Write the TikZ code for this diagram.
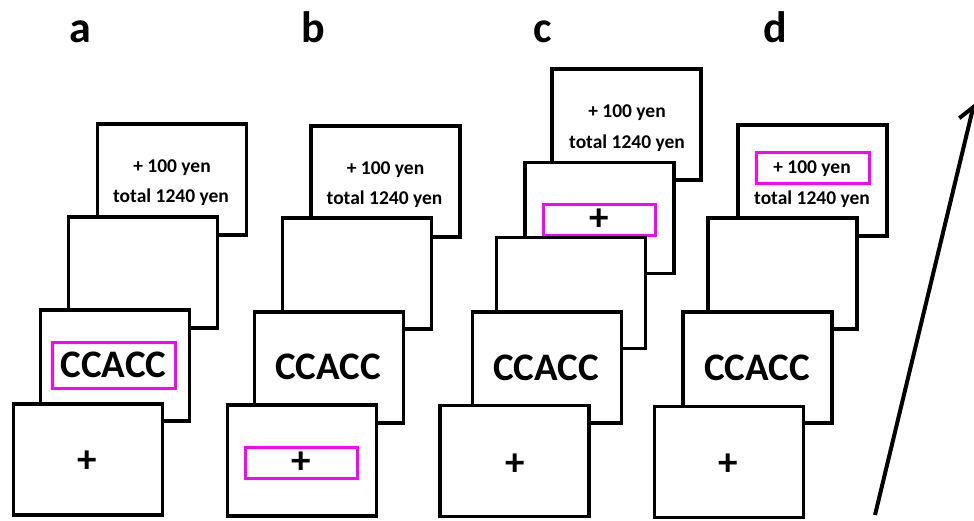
\documentclass[tikz,border=0pt]{standalone}
\usepackage{fontspec}
\setmainfont{Carlito}
\usetikzlibrary{arrows.meta}
\definecolor{hlmag}{RGB}{255,0,255}
\tikzset{
  scr/.style={draw=black, fill=white, line width=3.2pt, minimum width=149pt, minimum height=111pt, inner sep=0pt},
  hl/.style={draw=hlmag, line width=3pt, inner sep=0pt},
  small/.style={font=\fontsize{19.5}{20}\selectfont\bfseries, inner sep=0pt},
  big/.style={font=\fontsize{39}{40}\selectfont\bfseries, inner sep=0pt},
  lbl/.style={font=\fontsize{44}{44}\selectfont\bfseries, anchor=base, inner sep=0pt},
  arr/.style={line width=4pt, -{Straight Barb[length=14pt,width=22pt,line width=4pt]}}
}
\begin{document}
\begin{tikzpicture}[x=1pt,y=-1pt]
\useasboundingbox (0,0) rectangle (974,520);
% labels
\node[lbl] (la) at (80,42) {a};
\node[lbl] (lb) at (313,42) {b};
\node[lbl] (lc) at (543,42) {c};
\node[lbl] (ld) at (775,42) {d};
% panel a
\node[scr] (a1) at (172,179.5) {};
\node[small] (a1t) at (172,168) {+ 100 yen};
\node[small] (a1u) at (171,197) {total 1240 yen};
\node[scr] (a2) at (143,272.5) {};
\node[scr] (a3) at (115,365.5) {};
\node[hl, big, minimum width=123pt, minimum height=46pt] (a3h) at (113.5,365) {CCACC};
\node[scr] (a4) at (88,459.5) {};
\node[big] (a4t) at (87,462) {+};
% panel b
\node[scr] (b1) at (385.5,181.5) {};
\node[small] (b1t) at (385.5,170) {+ 100 yen};
\node[small] (b1u) at (384.5,199) {total 1240 yen};
\node[scr] (b2) at (357,273.5) {};
\node[scr] (b3) at (329,367.5) {};
\node[big] (b3t) at (328,367) {CCACC};
\node[scr] (b4) at (302,460.5) {};
\node[hl, big, minimum width=112pt, minimum height=31pt] (b4h) at (301,462.5) {};
\node[big] (b4t) at (301,463) {+};
% panel c
\node[scr] (c1) at (626.5,124.5) {};
\node[small] (c1t) at (627,113) {+ 100 yen};
\node[small] (c1u) at (627,143) {total 1240 yen};
\node[scr] (c2) at (599.5,218) {};
\node[hl, minimum width=112pt, minimum height=31pt] (c2h) at (599,219.5) {};
\node[big] (c2t) at (599,220) {+};
\node[scr] (c3) at (571,293) {};
\node[scr] (c4) at (547,367.5) {};
\node[big] (c4t) at (546,368) {CCACC};
\node[scr] (c5) at (514.5,461) {};
\node[big] (c5t) at (515,465) {+};
% panel d
\node[scr] (d1) at (812.5,180.5) {};
\node[hl, minimum width=113pt, minimum height=31pt] (d1h) at (812.5,167.5) {};
\node[small] (d1t) at (812,169) {+ 100 yen};
\node[small] (d1u) at (812,199) {total 1240 yen};
\node[scr] (d2) at (782.5,273.5) {};
\node[scr] (d3) at (757.5,367.5) {};
\node[big] (d3t) at (757,368) {CCACC};
\node[scr] (d4) at (729,462) {};
\node[big] (d4t) at (728,465) {+};
% arrow
\coordinate (tail) at (875,515);
\coordinate (head) at (974,104);
\draw[arr] (tail) -- (head);
\end{tikzpicture}
\end{document}
